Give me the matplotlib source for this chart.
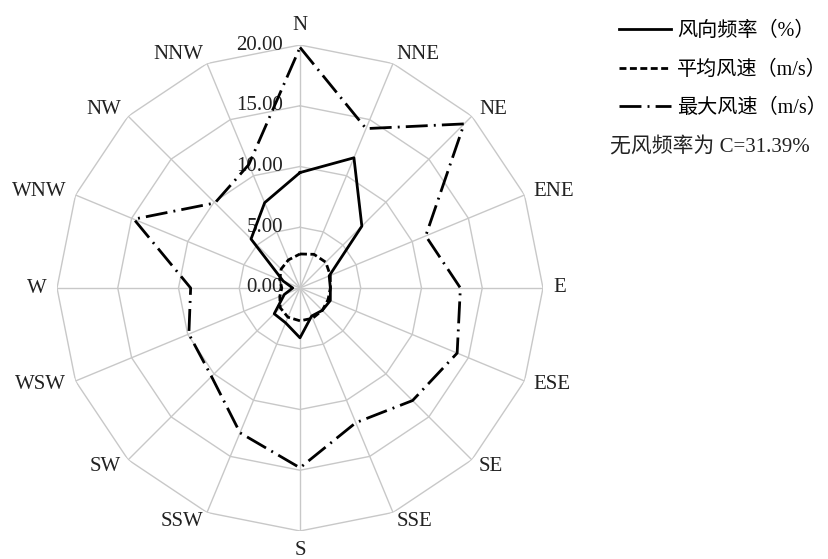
import numpy as np
import matplotlib
matplotlib.use('Agg')
import matplotlib.pyplot as plt
from matplotlib.lines import Line2D
from matplotlib.transforms import offset_copy

# ---------------- data ----------------
directions = ['N', 'NNE', 'NE', 'ENE', 'E', 'ESE', 'SE', 'SSE',
              'S', 'SSW', 'SW', 'WSW', 'W', 'WNW', 'NW', 'NNW']
freq = [9.5, 11.6, 7.2, 2.6, 2.5, 2.7, 2.6, 2.5,
        4.1, 3.1, 3.0, 1.4, 0.6, 1.5, 5.7, 7.6]
avg_speed = [2.8, 3.0, 3.0, 2.7, 2.5, 2.5, 2.6, 2.7,
             2.7, 2.6, 2.3, 1.8, 1.5, 1.8, 2.2, 2.5]
max_speed = [19.8, 14.2, 19.1, 11.2, 13.2, 14.0, 13.1, 12.0,
             14.8, 12.9, 10.3, 9.9, 9.0, 14.8, 9.9, 11.0]
r_ticks = [0, 5, 10, 15, 20]
r_tick_labels = ['0.00', '5.00', '10.00', '15.00', '20.00']
legend_labels = ['风向频率（%）', '平均风速（m/s）', '最大风速（m/s）']
calm_text = '无风频率为 C=31.39%'

# ---------------- style ----------------
FAM = ['Liberation Serif', 'Noto Sans CJK SC', 'DejaVu Sans']
plt.rcParams['font.family'] = FAM
FS = 15
grid_color = '#c8c8c8'
styles = [dict(ls='-', lw=2.0),
          dict(ls=(0, (2.5, 1.25)), lw=2.0),
          dict(ls=(0, (7.9, 2.2, 0.7, 2.2)), lw=2.0)]

fig = plt.figure(figsize=(8.29, 5.59), dpi=100)
ax = fig.add_axes([57 / 829, 28 / 559, 486 / 829, 486 / 559], projection='polar')
ax.set_theta_zero_location('N')
ax.set_theta_direction(-1)
ax.set_ylim(0, r_ticks[-1])
ax.grid(False)
ax.set_xticks([])
ax.set_yticks([])
ax.spines['polar'].set_visible(False)
ax.patch.set_visible(False)

n = len(directions)
theta = np.arange(n) * 2 * np.pi / n
tc = np.append(theta, theta[0])


def close(v):
    v = list(v)
    return v + v[:1]


# polygon grid
for r in r_ticks[1:]:
    ax.plot(tc, [r] * (n + 1), color=grid_color, lw=1.0, zorder=1)
for t in theta:
    ax.plot([t, t], [0, r_ticks[-1]], color=grid_color, lw=1.0, zorder=1)

# data
series = [freq, avg_speed, max_speed]
handles = []
for vals, st in zip(series, styles):
    ax.plot(tc, close(vals), color='black', zorder=3, **st)
    handles.append(Line2D([], [], color='black', **st))

# direction labels
gap = 10
for t, lab in zip(theta, directions):
    s, c = np.sin(t), np.cos(t)
    if abs(s) < 1e-6:
        ha = 'center'
        va = 'bottom' if c > 0 else 'top'
    else:
        ha = 'left' if s > 0 else 'right'
        va = 'center'
    tr = offset_copy(ax.transData, fig=fig, x=gap * s, y=gap * c, units='dots')
    ax.text(t, r_ticks[-1], lab, ha=ha, va=va, transform=tr, fontsize=FS,
            color='#222222')

# radial tick labels
trl = offset_copy(ax.transData, fig=fig, x=-17, y=0, units='dots')
for r, lab in zip(r_ticks, r_tick_labels):
    ax.text(0, r, lab, ha='right', va='center', transform=trl, fontsize=FS,
            color='#222222', zorder=2)

# legend
fig.legend(handles, legend_labels, loc='upper left',
           bbox_to_anchor=(619 / 829, 1 - 22 / 559), frameon=False,
           borderpad=0, borderaxespad=0, handlelength=2.6, handletextpad=0.3,
           labelspacing=0.95, prop={'family': FAM, 'size': 14.5})
fig.text(610 / 829, 1 - 147 / 559, calm_text, ha='left', va='center',
         fontsize=FS, color='#222222')

fig.savefig('out.png', dpi=100)
